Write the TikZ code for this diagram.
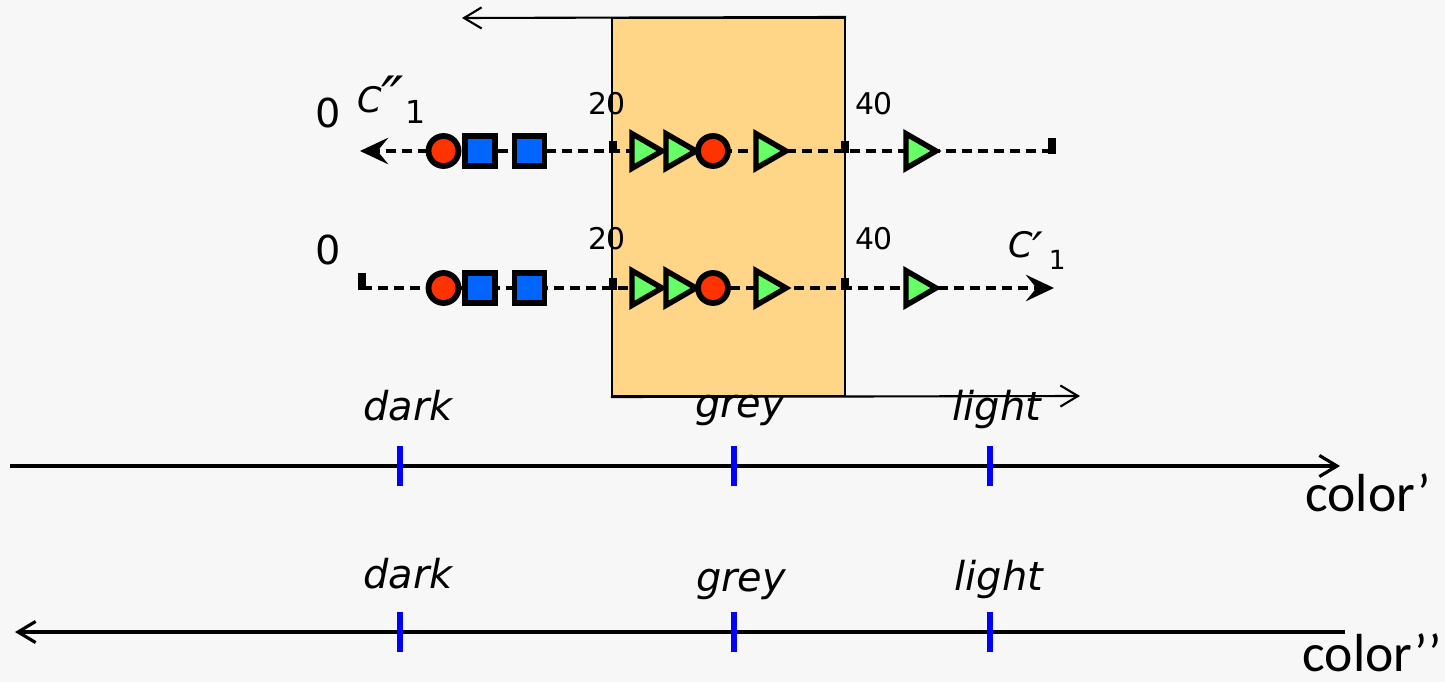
\documentclass[tikz,border=0pt]{standalone}
\usepackage{fontspec}
\setmainfont{DejaVu Sans}
\newfontfamily\calibrifont{Carlito}
\usepackage{tikz}
\usetikzlibrary{
    arrows.meta,
    positioning,
    shapes.geometric
}
\definecolor{paperbg}{RGB}{247,247,247}
\definecolor{windoworange}{RGB}{255,214,136}
\definecolor{dotred}{RGB}{255,51,0}
\definecolor{squareblue}{RGB}{0,102,255}
\definecolor{trigreen}{RGB}{102,255,102}
\definecolor{tickblue}{RGB}{0,0,255}

\begin{document}
\begin{tikzpicture}[
    x=0.02cm,
    y=-0.02cm,
    redcirc/.style={
        circle,
        draw=black,
        line width=3.3pt,
        fill=dotred,
        minimum size=0.6cm,
        inner sep=0pt
    },
    bluesq/.style={
        rectangle,
        draw=black,
        line width=3.1pt,
        fill=squareblue,
        minimum size=0.6cm,
        inner sep=0pt
    },
    greentri/.style={
        regular polygon,
        regular polygon sides=3,
        shape border rotate=-90,
        draw=black,
        line width=3.1pt,
        fill=trigreen,
        minimum size=0.8cm,
        inner sep=0pt
    },
    seqline/.style={
        line width=2.6pt,
        dash pattern=on 5.7pt off 3.4pt
    },
    seqarrow/.style={
        seqline,
        -{Stealth[length=16pt,width=15pt,inset=6pt]}
    },
    seqtick/.style={
        line width=4pt
    },
    window/.style={
        draw=black,
        line width=1.2pt,
        fill=windoworange,
        minimum width=4.66cm,
        minimum height=7.56cm,
        inner sep=0pt
    },
    thinarrow/.style={
        line width=1.2pt,
        -{Straight Barb[length=10pt,width=12pt]}
    },
    axisarrow/.style={
        line width=1.8pt,
        -{Straight Barb[length=10pt,width=12pt]}
    },
    bluetick/.style={
        rectangle,
        fill=tickblue,
        minimum width=0.11cm,
        minimum height=0.8cm,
        inner sep=0pt
    },
    poslabel/.style={
        font=\fontsize{17}{20}\selectfont,
        inner sep=0pt,
        anchor=base
    },
    zerolabel/.style={
        font=\fontsize{22.7}{27}\selectfont,
        inner sep=0pt,
        anchor=base
    },
    seqname/.style={
        font=\fontsize{20}{24}\selectfont\itshape,
        inner sep=0pt,
        anchor=base west
    },
    shadelabel/.style={
        font=\fontsize{22.7}{27}\selectfont\itshape,
        inner sep=0pt,
        anchor=base
    },
    axisname/.style={
        font=\calibrifont\fontsize{30.5}{35}\selectfont,
        inner sep=0pt,
        anchor=base
    }
]

\fill[paperbg] (0,0) rectangle (1445,682);
\useasboundingbox (0,0) rectangle (1445,682);

% shaded window
\node[window] (win) at (728.5,207) {};
\coordinate (winleft) at (462,18);
\coordinate (winright) at (1080,396);
\draw[thinarrow] (win.north east) -- (winleft);
\draw[thinarrow] (win.south west) -- (winright);

% upper sequence, read right to left
\coordinate (upstart) at (1052,151);
\coordinate (upend) at (360,151);
\draw[seqarrow] (upstart) -- (upend);
\draw[seqtick] (1052,138) -- (1052,154);
\draw[seqtick] (613,141) -- (613,153);
\draw[seqtick] (845,141) -- (845,153);

\node[redcirc] (upc1) at (443.5,151) {};
\node[bluesq] (ups1) at (480,151) {};
\node[bluesq] (ups2) at (529.5,151) {};
\node[greentri] (upt1) at (642,151) {};
\node[greentri] (upt2) at (676,151) {};
\node[redcirc] (upc2) at (713,151) {};
\node[greentri] (upt3) at (766,151) {};
\node[greentri] (upt4) at (916,151) {};

\node[zerolabel] (upzero) at (328,128) {0};
\node[seqname] (upname) at (357,113) {C\raisebox{-3.5pt}{\fontsize{34}{36}\selectfont ″}\kern1pt\raisebox{-5.7pt}{\upshape\fontsize{18}{20}\selectfont 1}};
\node[poslabel] (uptwenty) at (607,115) {20};
\node[poslabel] (upforty) at (874,115) {40};

% lower sequence, read left to right
\coordinate (lowstart) at (362,288);
\coordinate (lowend) at (1054,288);
\draw[seqarrow] (lowstart) -- (lowend);
\draw[seqtick] (362,273) -- (362,290);
\draw[seqtick] (613,278) -- (613,290);
\draw[seqtick] (845,278) -- (845,290);

\node[redcirc] (lowc1) at (443.5,288) {};
\node[bluesq] (lows1) at (480,288) {};
\node[bluesq] (lows2) at (529.5,288) {};
\node[greentri] (lowt1) at (642,288) {};
\node[greentri] (lowt2) at (676,288) {};
\node[redcirc] (lowc2) at (713,288) {};
\node[greentri] (lowt3) at (766,288) {};
\node[greentri] (lowt4) at (916,288) {};

\node[zerolabel] (lowzero) at (328,265) {0};
\node[seqname] (lowname) at (1008,258) {C\raisebox{-5pt}{\fontsize{27}{29}\selectfont ′}\kern3pt\raisebox{-6.8pt}{\upshape\fontsize{15}{17}\selectfont 1}};
\node[poslabel] (lowtwenty) at (607,250) {20};
\node[poslabel] (lowforty) at (874,250) {40};

% color' axis
\coordinate (axonestart) at (10,466);
\coordinate (axoneend) at (1340,466);
\draw[axisarrow] (axonestart) -- (axoneend);
\node[bluetick] (darkone) at (400,466) {};
\node[bluetick] (greyone) at (734,466) {};
\node[bluetick] (lightone) at (990,466) {};
\node[shadelabel] (darkonetext) at (408,420) {dark};
\node[shadelabel] (greyonetext) at (740,418) {grey};
\node[shadelabel] (lightonetext) at (997,420) {light};
\node[axisname] (axonename) at (1368,511) {color’};

% color'' axis
\coordinate (axtwostart) at (1345,632);
\coordinate (axtwoend) at (15,632);
\draw[axisarrow] (axtwostart) -- (axtwoend);
\node[bluetick] (darktwo) at (400,632) {};
\node[bluetick] (greytwo) at (734,632) {};
\node[bluetick] (lighttwo) at (990,632) {};
\node[shadelabel] (darktwotext) at (408,588) {dark};
\node[shadelabel] (greytwotext) at (741,591) {grey};
\node[shadelabel] (lighttwotext) at (999,590) {light};
\node[axisname] (axtwoname) at (1372,671) {color’’};

\end{tikzpicture}
\end{document}
